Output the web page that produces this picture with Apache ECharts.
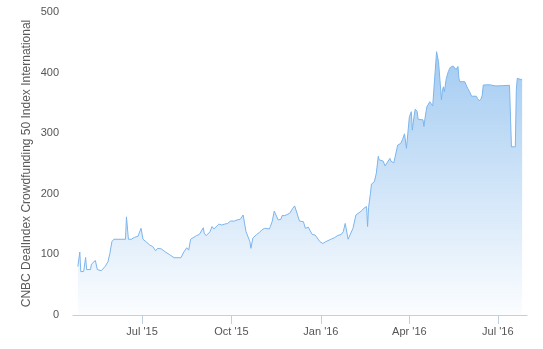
<!DOCTYPE html>
<html><head><meta charset="utf-8">
<script src="https://cdn.jsdelivr.net/npm/echarts@6/dist/echarts.min.js"></script>
<style>html,body{margin:0;padding:0;background:#fff}#c{width:543px;height:349px}</style>
</head><body><div id="c"></div>
<script>
const dates = [
'2015-04-26','2015-04-28','2015-04-29','2015-05-02','2015-05-04','2015-05-05','2015-05-09','2015-05-10','2015-05-12','2015-05-14',
'2015-05-15','2015-05-16','2015-05-20','2015-05-22','2015-05-24','2015-05-27','2015-05-29','2015-05-31','2015-06-02','2015-06-14',
'2015-06-15','2015-06-16','2015-06-17','2015-06-20','2015-06-23','2015-06-27','2015-06-28','2015-06-30','2015-07-01','2015-07-02',
'2015-07-05','2015-07-09','2015-07-12','2015-07-15','2015-07-17','2015-07-21','2015-07-23','2015-07-25','2015-07-29','2015-07-31',
'2015-08-03','2015-08-10','2015-08-13','2015-08-16','2015-08-18','2015-08-20','2015-08-22','2015-08-26','2015-08-29','2015-08-31',
'2015-09-02','2015-09-03','2015-09-05','2015-09-09','2015-09-11','2015-09-13','2015-09-15','2015-09-18','2015-09-21','2015-09-24',
'2015-09-27','2015-09-30','2015-10-04','2015-10-07','2015-10-09','2015-10-10','2015-10-13','2015-10-16','2015-10-18','2015-10-20',
'2015-10-21','2015-10-23','2015-10-25','2015-10-27','2015-10-30','2015-11-01','2015-11-02','2015-11-04','2015-11-06','2015-11-09',
'2015-11-10','2015-11-12','2015-11-14','2015-11-16','2015-11-18','2015-11-20','2015-11-21','2015-11-22','2015-11-25','2015-11-27',
'2015-11-30','2015-12-03','2015-12-05','2015-12-07','2015-12-08','2015-12-10','2015-12-12','2015-12-14','2015-12-16','2015-12-19',
'2015-12-20','2015-12-23','2015-12-26','2015-12-28','2015-12-31','2016-01-03','2016-01-06','2016-01-08','2016-01-12','2016-01-15',
'2016-01-18','2016-01-22','2016-01-24','2016-01-26','2016-01-27','2016-01-29','2016-01-31','2016-02-03','2016-02-06','2016-02-08',
'2016-02-12','2016-02-14','2016-02-17','2016-02-18','2016-02-19','2016-02-21','2016-02-22','2016-02-25','2016-02-27','2016-02-29',
'2016-03-01','2016-03-03','2016-03-05','2016-03-07','2016-03-09','2016-03-12','2016-03-13','2016-03-16','2016-03-18','2016-03-20',
'2016-03-23','2016-03-25','2016-03-27','2016-03-29','2016-03-30','2016-04-01','2016-04-03','2016-04-04','2016-04-06','2016-04-07',
'2016-04-09','2016-04-10','2016-04-12','2016-04-15','2016-04-16','2016-04-17','2016-04-19','2016-04-22','2016-04-23','2016-04-25',
'2016-04-27','2016-04-29','2016-04-30','2016-05-01','2016-05-03','2016-05-04','2016-05-05','2016-05-06','2016-05-07','2016-05-09',
'2016-05-11','2016-05-13','2016-05-16','2016-05-17','2016-05-19','2016-05-21','2016-05-22','2016-05-23','2016-05-25','2016-05-28',
'2016-05-29','2016-05-31','2016-06-02','2016-06-04','2016-06-09','2016-06-10','2016-06-12','2016-06-14','2016-06-15','2016-06-16',
'2016-06-22','2016-06-29','2016-07-06','2016-07-13','2016-07-14','2016-07-15','2016-07-19','2016-07-20','2016-07-21','2016-07-23',
'2016-07-26'
];
const values = [
80,104,71.5,72,95,75,75,84,85,90,
82.5,75,73,75,80,88,102,121,125,125,
162,163,125,125,128,130,135,143,140,125,
121,115.5,113,106,110,109,110,104,100,99,
94.5,94.5,104,111,107,125,127.5,131,133,135,
144,135,131,137.5,146,142,144,150,148.5,150,
151,155,155,157,159.5,158,165,137.5,135,121,
110,127,128.5,133,136.5,140,137,143,140,142,
146,155,171.5,173,157,160,158,164,164,162,
168,176,180,177,165,155,156,154,143,145,
142,133,132,129,121,118,121,124,125.5,127.5,
131,133,137.5,151,152,125,128,143,165,167,
172,176,179,146,177,201,216,220,234,262,
256,253,254,246,247,258.5,254,251,251,280.5,
283,290,299,275,277,327,335.5,305,330,339.5,
336,323,324,322,311,324,343.5,352,353.5,345,
345,434.5,433,418,416,355,371,376.5,368.5,390.5,
401.5,408.5,411,410,405,410,390.5,385,386.5,385,
381,374,368.5,361,361,357.5,353.5,357.5,363,379.5,
380,378,378.5,379,377,277.5,277.5,371,390.5,389,
388
];
const tickDates = ['2015-07-01','2015-10-01','2016-01-01','2016-04-01','2016-07-01'];
const tickLabels = ["Jul '15","Oct '15","Jan '16","Apr '16","Jul '16"];
const axisRange = ['2015-04-21','2016-07-31'];
const yTicks = [0,100,200,300,400,500];
const yTitle = 'CNBC DealIndex Crowdfunding 50 Index International';

const ts = s => { const p = s.split('-').map(Number); return Date.UTC(p[0], p[1]-1, p[2]); };
const tickTs = tickDates.map(ts);
const font = '"Liberation Sans", Arial, Helvetica, sans-serif';

const chart = echarts.init(document.getElementById('c'), null, {renderer:'canvas'});
chart.setOption({
  animation: false,
  grid: {left: 73, right: 16, top: 12, bottom: 34},
  xAxis: {
    type: 'value', min: ts(axisRange[0]), max: ts(axisRange[1]),
    axisLine: {lineStyle: {color: '#C0D0E0', width: 1}},
    axisTick: {show: true, length: 9, customValues: tickTs, lineStyle: {color: '#C0D0E0'}},
    axisLabel: {
      customValues: tickTs,
      formatter: v => { let best = 0; tickTs.forEach((t,i)=>{ if (Math.abs(t-v) < Math.abs(tickTs[best]-v)) best = i; }); return tickLabels[best]; },
      color: '#555555', fontSize: 11, margin: 11, fontFamily: font
    },
    splitLine: {show: false}
  },
  yAxis: {
    type: 'value', min: yTicks[0], max: yTicks[yTicks.length-1], interval: yTicks[1]-yTicks[0],
    name: yTitle, nameLocation: 'middle', nameGap: 40, nameRotate: 90, nameMoveOverlap: false,
    nameTextStyle: {color: '#5a5a5a', fontSize: 12, fontFamily: font},
    axisLine: {show: false}, axisTick: {show: false}, splitLine: {show: false},
    axisLabel: {color: '#555555', fontSize: 11, margin: 14, fontFamily: font}
  },
  series: [{
    type: 'line',
    data: dates.map((d, i) => [ts(d), values[i]]),
    showSymbol: false, symbol: 'none',
    lineStyle: {color: '#7cb5ec', width: 1},
    areaStyle: {
      color: {type: 'linear', x: 0, y: 0, x2: 0, y2: 1,
        colorStops: [{offset: 0, color: 'rgba(124,181,236,1)'}, {offset: 1, color: 'rgba(124,181,236,0.04)'}]}
    }
  }]
});
</script>
</body></html>
